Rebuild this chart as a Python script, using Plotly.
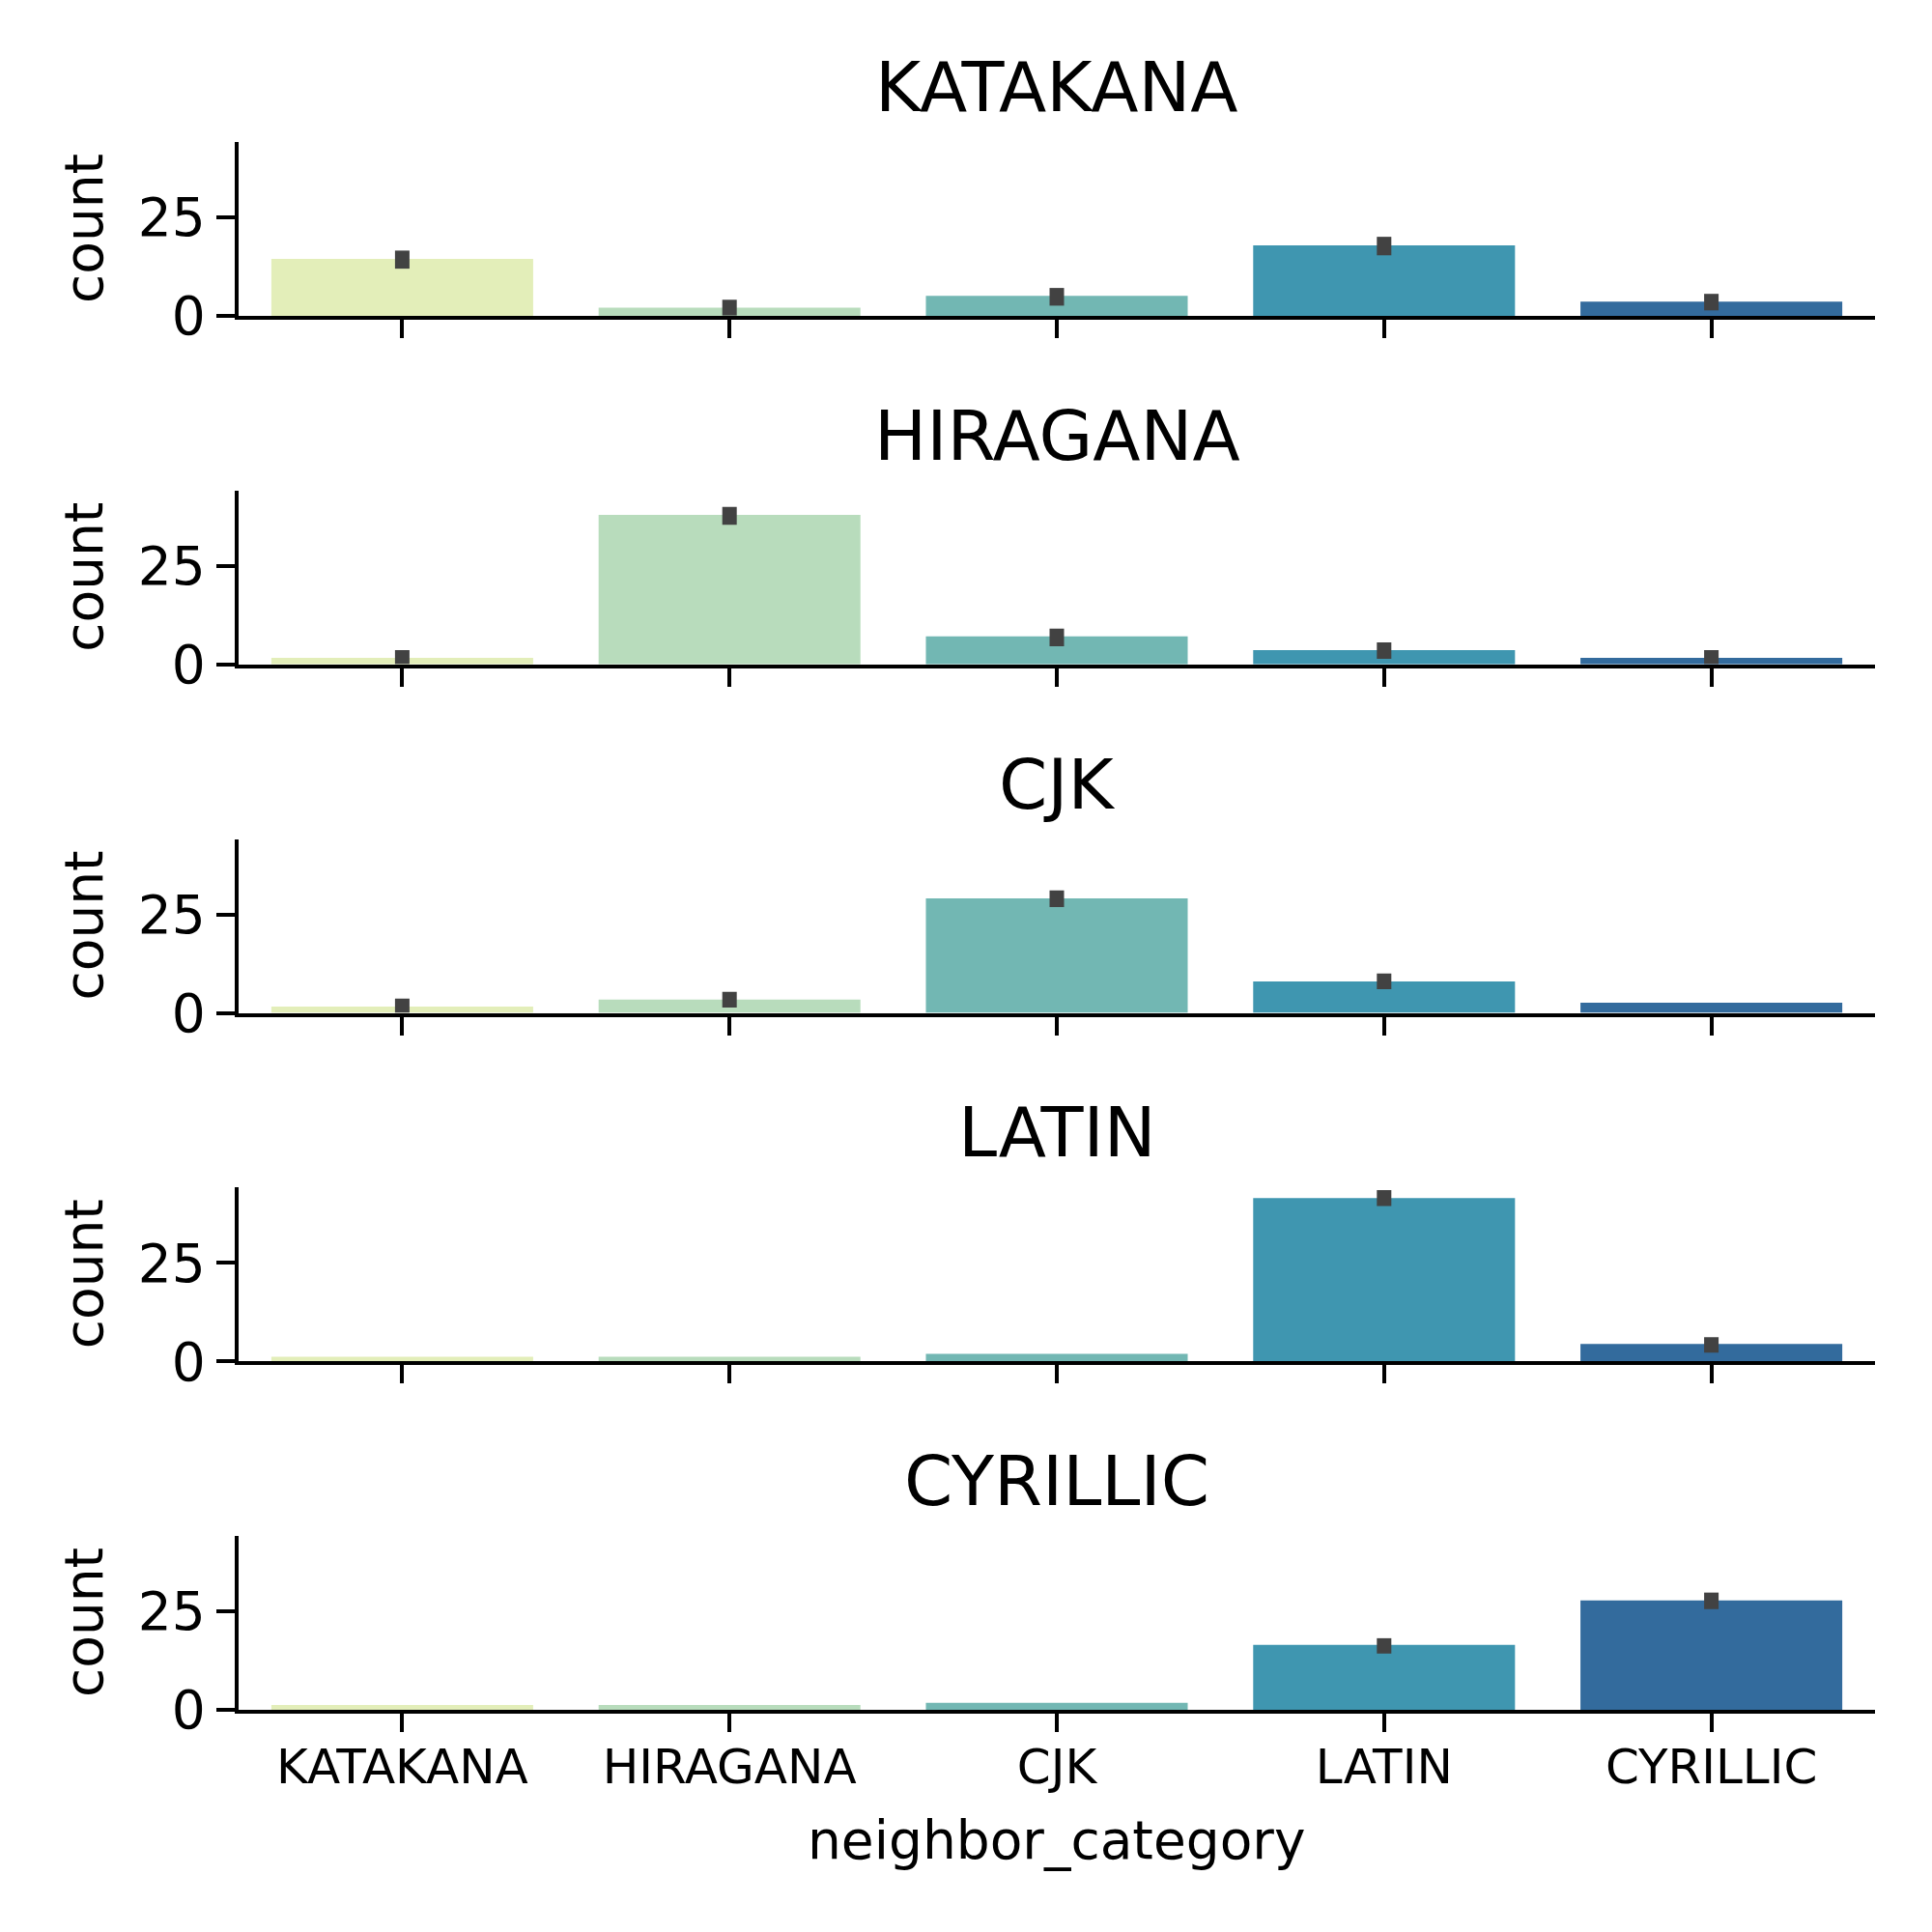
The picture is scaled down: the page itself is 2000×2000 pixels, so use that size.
import plotly.graph_objects as go

categories = ["KATAKANA", "HIRAGANA", "CJK", "LATIN", "CYRILLIC"]
panel_titles = ["KATAKANA", "HIRAGANA", "CJK", "LATIN", "CYRILLIC"]
bar_colors = ["#e3eeb9", "#b8dcbc", "#72b7b3", "#3f96b0", "#336b9d"]

counts_katakana = [14.5, 2.1, 5.1, 17.9, 3.6]
err_plus_katakana = [2.1, 2.0, 2.0, 2.2, 2.0]
err_minus_katakana = [2.5, 2.0, 2.5, 2.5, 2.2]

counts_hiragana = [1.65, 38.0, 7.1, 3.6, 1.65]
err_plus_hiragana = [2.0, 2.0, 2.0, 2.0, 2.0]
err_minus_hiragana = [1.6, 2.5, 2.5, 2.2, 1.6]

counts_cjk = [1.6, 3.35, 29.1, 8.0, 2.6]
err_plus_cjk = [2.0, 2.0, 2.0, 2.0, 0.0]
err_minus_cjk = [1.6, 2.0, 2.2, 2.0, 0.0]

counts_latin = [1.15, 1.15, 1.9, 41.5, 4.4]
err_plus_latin = [0.0, 0.0, 0.0, 2.0, 1.75]
err_minus_latin = [0.0, 0.0, 0.0, 2.0, 2.2]

counts_cyrillic = [1.2, 1.2, 1.8, 16.5, 27.8]
err_plus_cyrillic = [0.0, 0.0, 0.0, 1.7, 2.0]
err_minus_cyrillic = [0.0, 0.0, 0.0, 2.2, 2.2]

y_ticks = [0, 25]
y_tick_labels = ["0", "25"]
y_max = 44.2

panel_counts = [counts_katakana, counts_hiragana, counts_cjk, counts_latin, counts_cyrillic]
panel_plus = [err_plus_katakana, err_plus_hiragana, err_plus_cjk, err_plus_latin, err_plus_cyrillic]
panel_minus = [err_minus_katakana, err_minus_hiragana, err_minus_cjk, err_minus_latin, err_minus_cyrillic]

W = H = 2000
FONT = "DejaVu Sans"
x_dom = [247 / W, 1941 / W]
zero0 = 327.0
step = 360.75
ph = 180.0

fig = go.Figure()
annotations = []
layout = dict(
    width=W, height=H,
    margin=dict(l=0, r=0, t=0, b=0),
    paper_bgcolor="white", plot_bgcolor="white",
    showlegend=False,
    font=dict(family=FONT, color="black"),
)

for i in range(5):
    ax = "" if i == 0 else str(i + 1)
    zero_px = zero0 + i * step
    top_px = zero_px - ph
    y_dom = [1 - zero_px / H, 1 - top_px / H]
    fig.add_trace(go.Bar(
        x=list(range(len(categories))),
        y=panel_counts[i],
        width=0.8,
        marker=dict(color=bar_colors, line=dict(width=0)),
        error_y=dict(type="data", symmetric=False, array=panel_plus[i],
                     arrayminus=panel_minus[i], color="#424242",
                     thickness=15, width=0),
        xaxis="x" + ax, yaxis="y" + ax,
    ))
    layout["xaxis" + ax] = dict(
        domain=x_dom, anchor="y" + ax, range=[-0.5, 4.5],
        tickvals=list(range(len(categories))), ticktext=categories,
        showticklabels=(i == 4), tickfont=dict(size=50, family=FONT),
        ticklabelstandoff=-7,
        ticks="outside", ticklen=19, tickwidth=4.4, tickcolor="black",
        showline=True, linewidth=4.4, linecolor="black",
        showgrid=False, zeroline=False, fixedrange=True, automargin=False,
    )
    layout["yaxis" + ax] = dict(
        domain=y_dom, anchor="x" + ax, range=[0, y_max],
        tickvals=y_ticks, ticktext=y_tick_labels,
        tickfont=dict(size=55, family=FONT),
        ticks="outside", ticklen=19, tickwidth=4.4, tickcolor="black",
        showline=True, linewidth=4.4, linecolor="black",
        showgrid=False, zeroline=False, fixedrange=True, automargin=False,
    )
    annotations.append(dict(
        text=panel_titles[i], x=(x_dom[0] + x_dom[1]) / 2, y=1 - (top_px - 57) / H,
        xref="paper", yref="paper", xanchor="center", yanchor="middle",
        showarrow=False, font=dict(size=72, family=FONT, color="black"),
    ))
    annotations.append(dict(
        text="count", x=87 / W, y=1 - (zero_px - ph / 2) / H,
        xref="paper", yref="paper", xanchor="center", yanchor="middle",
        textangle=-90, showarrow=False,
        font=dict(size=55, family=FONT, color="black"),
    ))

annotations.append(dict(
    text="neighbor_category", x=(x_dom[0] + x_dom[1]) / 2, y=1 - 1905 / H,
    xref="paper", yref="paper", xanchor="center", yanchor="middle",
    showarrow=False, font=dict(size=55, family=FONT, color="black"),
))
layout["annotations"] = annotations
fig.update_layout(**layout)

page_fix = (
    "var d=document.documentElement,b=document.body;"
    "[d,b].forEach(function(e){e.style.margin='0';e.style.padding='0';e.style.overflow='hidden';});"
    "var gd=document.getElementById('{plot_id}');"
    "var h=window.innerHeight||2000;"
    "if(h>0&&Math.abs(h-2000)>2){gd.style.height=h+'px';Plotly.relayout(gd,{height:h});}"
)
fig.write_html("out.html", config={"displayModeBar": False}, post_script=page_fix)
